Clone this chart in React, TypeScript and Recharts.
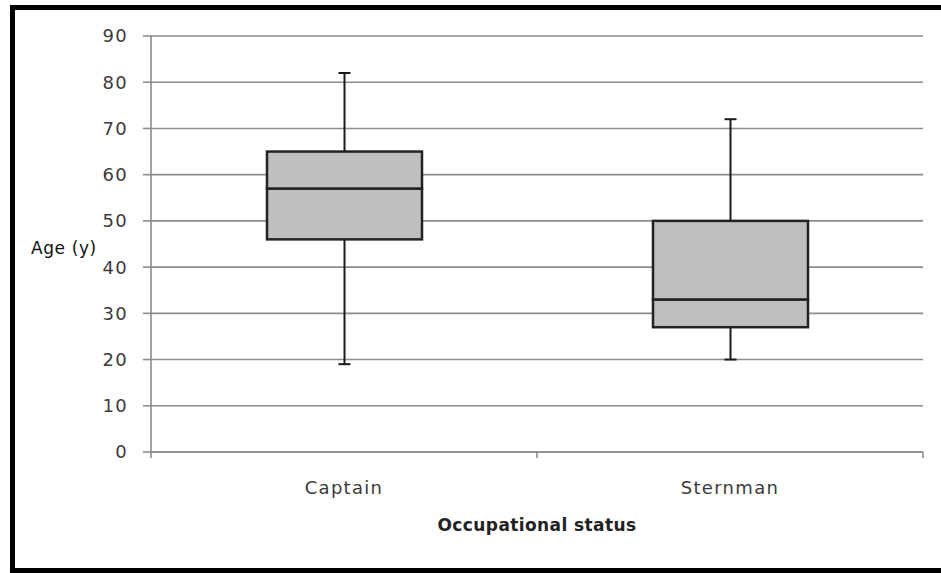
import React from 'react'
import { BarChart, Bar, XAxis, YAxis, CartesianGrid } from 'recharts'

// box plot values
const categories = ['Captain', 'Sternman']
const mins = [19, 20]
const q1s = [46, 27]
const medians = [57, 33]
const q3s = [65, 50]
const maxs = [82, 72]
const yTicks = [0, 10, 20, 30, 40, 50, 60, 70, 80, 90]

// stacked pieces: invisible base, lower whisker, two box halves, upper whisker
const data = categories.map((name, i) => ({
  name,
  base: mins[i],
  lowWhisker: q1s[i] - mins[i],
  lowBox: medians[i] - q1s[i],
  highBox: q3s[i] - medians[i],
  highWhisker: maxs[i] - q3s[i],
}))

const GRID = '#8c8c8c'
const TEXT = '#3a3a3a'
const FONT = '"DejaVu Sans", Verdana, sans-serif'

const Whisker = (props: any) => {
  const { x, y, width, height, cap } = props
  const cx = x + width / 2
  const capY = cap === 'bottom' ? y + height : y
  return (
    <g stroke="#1a1a1a" strokeWidth={2}>
      <line x1={cx} y1={y} x2={cx} y2={y + height} />
      <line x1={cx - 6} y1={capY} x2={cx + 6} y2={capY} />
    </g>
  )
}

const BoxPart = (props: any) => {
  const { x, y, width, height } = props
  return <rect x={x} y={y} width={width} height={height} fill="#bfbfbf" stroke="#222" strokeWidth={2.5} />
}

const XTick = (props: any) => {
  const { x, y, payload, index } = props
  const off = payload.offset || 0
  const top = y - 6
  return (
    <g>
      {index === 0 && <line x1={x - off} y1={top} x2={x - off} y2={y} stroke={GRID} strokeWidth={1.6} />}
      <line x1={x + off} y1={top} x2={x + off} y2={y} stroke={GRID} strokeWidth={1.6} />
      <text x={x} y={y + 29} textAnchor="middle" dominantBaseline="central" fill={TEXT}
        style={{ fontFamily: FONT, fontSize: 18, letterSpacing: 1.3 }}>
        {payload.value}
      </text>
    </g>
  )
}

const App = () => {
  return (
    <div style={{ position: 'absolute', left: 0, top: 0, width: 941, height: 573, overflow: 'hidden', background: '#fff' }}>
      {/* black frame, its right edge is cut off */}
      <div style={{ position: 'absolute', left: 10, top: 5, width: 960, height: 568, border: '5px solid #000', boxSizing: 'border-box' }} />
      <div style={{ position: 'absolute', left: 0, top: 0 }}>
        <BarChart width={941} height={573} data={data} margin={{ top: 36, right: 18, bottom: 61, left: 91 }} barSize={155}>
          <CartesianGrid horizontal vertical={false} stroke={GRID} strokeWidth={1.6} />
          <XAxis dataKey="name" height={60} tickSize={6} tickMargin={0} tickLine={false}
            axisLine={{ stroke: GRID, strokeWidth: 1.6 }} tick={<XTick />}
            label={{
              content: (p: any) => (
                <text x={p.viewBox.x + p.viewBox.width / 2} y={p.viewBox.y + 73} textAnchor="middle"
                  dominantBaseline="central" fill="#222"
                  style={{ fontFamily: FONT, fontSize: 17, fontWeight: 'bold', letterSpacing: 0.4 }}>
                  Occupational status
                </text>
              ),
            }} />
          <YAxis type="number" domain={[0, 90]} ticks={yTicks} width={60} tickSize={8} tickMargin={15}
            axisLine={{ stroke: GRID, strokeWidth: 1.6 }} tickLine={{ stroke: GRID, strokeWidth: 1.6 }}
            tick={{ fill: TEXT, fontFamily: FONT, fontSize: 18, letterSpacing: 1.3 }}
            label={{
              content: (p: any) => (
                <text x={31} y={p.viewBox.y + p.viewBox.height / 2 + 4} dominantBaseline="central" fill="#111"
                  style={{ fontFamily: FONT, fontSize: 17, letterSpacing: 0.6 }}>
                  Age (y)
                </text>
              ),
            }} />
          <Bar dataKey="base" stackId="box" fill="transparent" isAnimationActive={false} />
          <Bar dataKey="lowWhisker" stackId="box" shape={(p: any) => <Whisker {...p} cap="bottom" />} isAnimationActive={false} />
          <Bar dataKey="lowBox" stackId="box" shape={<BoxPart />} isAnimationActive={false} />
          <Bar dataKey="highBox" stackId="box" shape={<BoxPart />} isAnimationActive={false} />
          <Bar dataKey="highWhisker" stackId="box" shape={(p: any) => <Whisker {...p} cap="top" />} isAnimationActive={false} />
        </BarChart>
      </div>
    </div>
  )
}

export default App
